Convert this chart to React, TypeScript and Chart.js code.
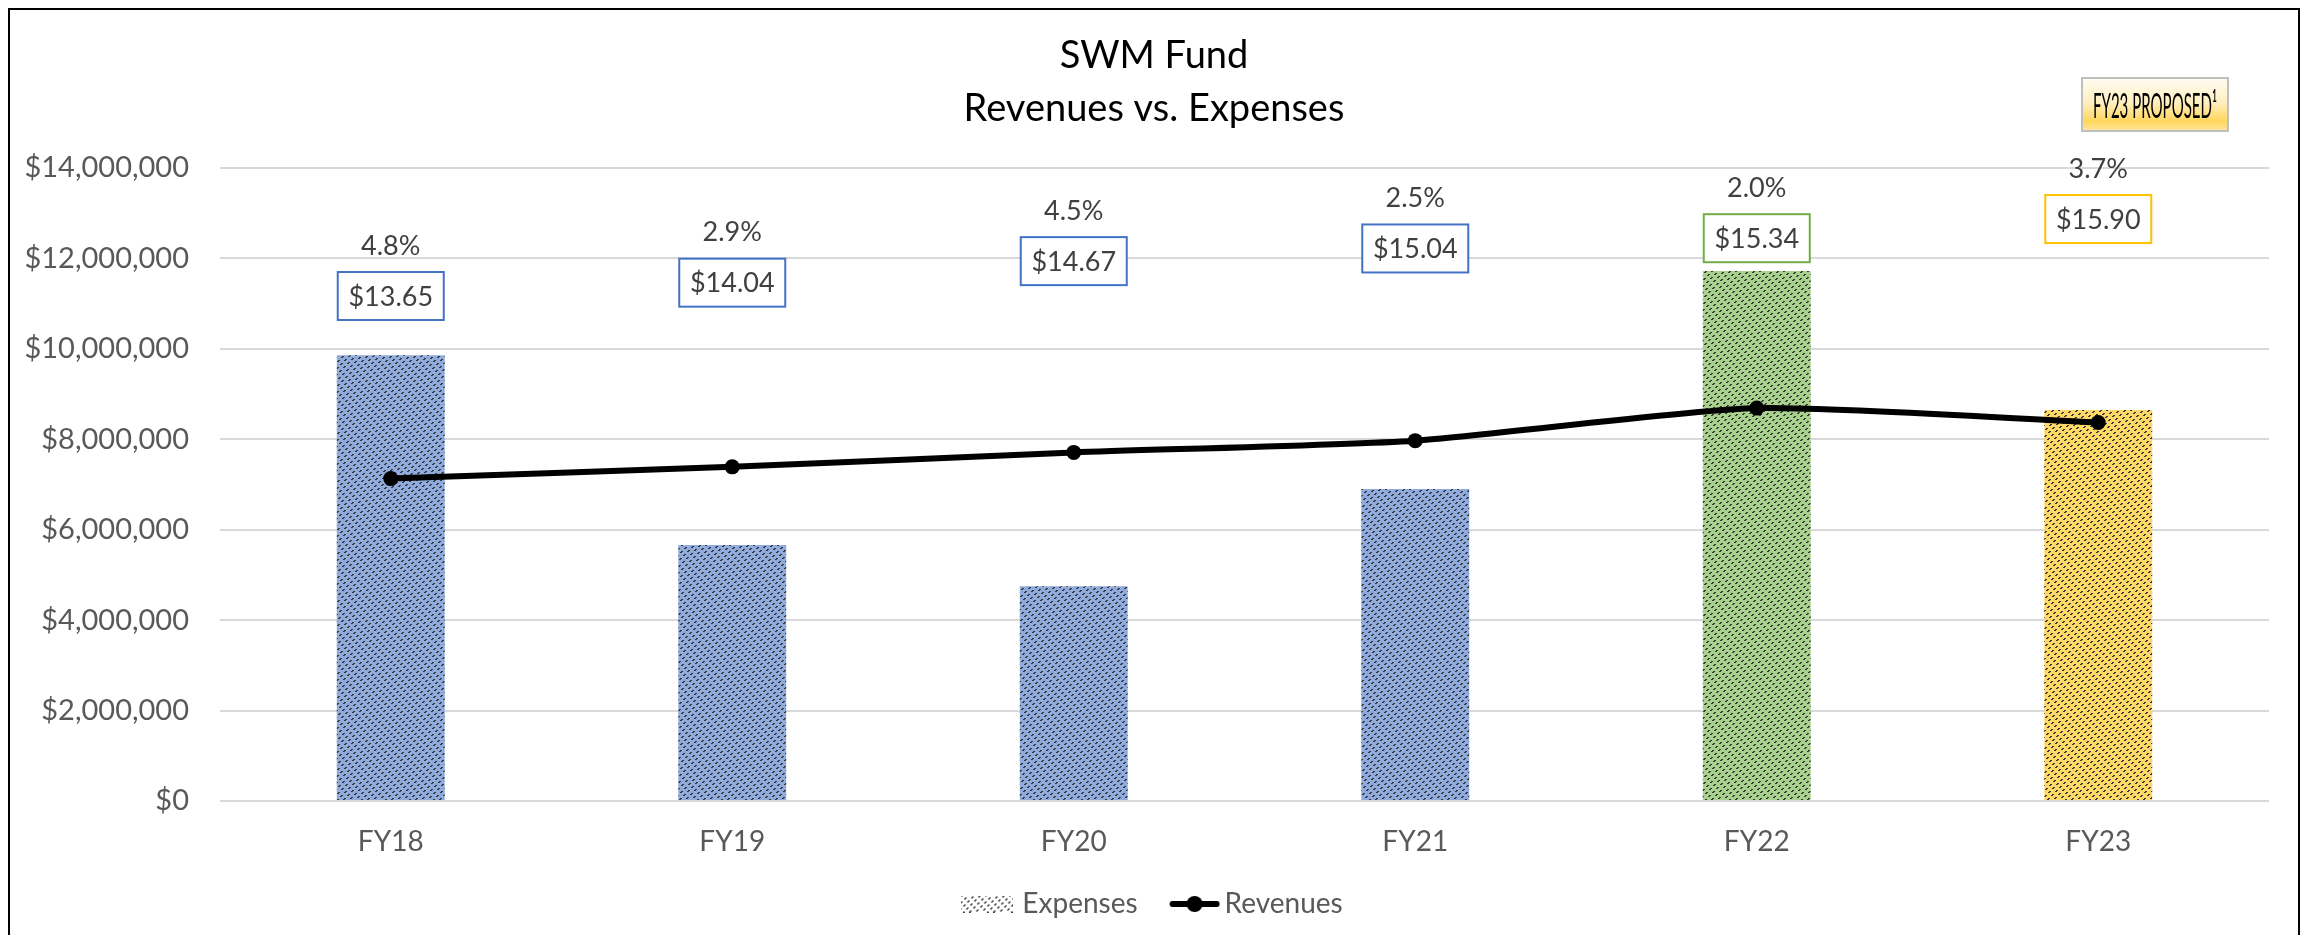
import React, { useEffect, useRef } from 'react';
import { Chart, registerables } from 'chart.js';

Chart.register(...registerables);

const categories = ['FY18', 'FY19', 'FY20', 'FY21', 'FY22', 'FY23'];
const expenses = [9860000, 5660000, 4750000, 6900000, 11720000, 8650000];
const revenues = [7130000, 7390000, 7710000, 7970000, 8690000, 8370000];
const rates = [13.65, 14.04, 14.67, 15.04, 15.34, 15.9];
const rateChanges = ['4.8%', '2.9%', '4.5%', '2.5%', '2.0%', '3.7%'];
const barColors = ['#8FAADC', '#8FAADC', '#8FAADC', '#8FAADC', '#A9D18E', '#FFD966'];
const labelBorders = ['#4472C4', '#4472C4', '#4472C4', '#4472C4', '#70AD47', '#FFC000'];
const titleLines = ['SWM Fund', 'Revenues vs. Expenses'];
const proposedText = 'FY23 PROPOSED\u00B9';

const FONT = 'Lato';

function makePattern(bg: string, fg: string): HTMLCanvasElement {
  const size = 24;
  const c = document.createElement('canvas');
  c.width = size;
  c.height = size;
  const ctx = c.getContext('2d')!;
  ctx.fillStyle = bg;
  ctx.fillRect(0, 0, size, size);
  ctx.fillStyle = fg;
  for (let y = 0; y < size; y++) {
    for (let x = 0; x < size; x++) {
      const s = (x + y) % 6;
      const d = (((x - y) % 8) + 8) % 8;
      if ((s === 0 || s === 1) && d < 4) {
        ctx.fillRect(x, y, 1, 1);
      }
    }
  }
  return c;
}

export default function App() {
  const ref = useRef<HTMLCanvasElement | null>(null);

  useEffect(() => {
    const canvas = ref.current;
    if (!canvas) return;
    const ctx0 = canvas.getContext('2d')!;
    const patterns = barColors.map((c) => ctx0.createPattern(makePattern(c, '#3A3A3A'), 'repeat')!);

    // legend icons
    const expIcon = document.createElement('canvas');
    expIcon.width = 52;
    expIcon.height = 17;
    {
      const ic = expIcon.getContext('2d')!;
      const p = ic.createPattern(makePattern('#FFFFFF', '#404040'), 'repeat')!;
      ic.fillStyle = p;
      ic.fillRect(0, 0, 52, 17);
    }
    const revIcon = document.createElement('canvas');
    revIcon.width = 64;
    revIcon.height = 18;
    {
      const ic = revIcon.getContext('2d')!;
      ic.strokeStyle = '#000';
      ic.lineWidth = 6;
      ic.lineCap = 'round';
      ic.beginPath();
      ic.moveTo(15.5, 9);
      ic.lineTo(59.5, 9);
      ic.stroke();
      ic.fillStyle = '#000';
      ic.beginPath();
      ic.arc(37.5, 9, 8, 0, Math.PI * 2);
      ic.fill();
    }

    const labelsPlugin = {
      id: 'rateLabels',
      afterDatasetsDraw(chart: any) {
        const ctx = chart.ctx as CanvasRenderingContext2D;
        const meta = chart.getDatasetMeta(2);
        meta.data.forEach((pt: any, i: number) => {
          const x = pt.x;
          const y = pt.y;
          ctx.save();
          ctx.fillStyle = '#FFFFFF';
          ctx.fillRect(x - 53, y - 24, 106, 48);
          ctx.lineWidth = 2;
          ctx.strokeStyle = labelBorders[i];
          ctx.strokeRect(x - 53, y - 24, 106, 48);
          ctx.font = `27px ${FONT}`;
          ctx.fillStyle = '#404040';
          ctx.textAlign = 'center';
          ctx.textBaseline = 'middle';
          ctx.fillText('$' + rates[i].toFixed(2), x, y + 1);
          ctx.fillText(rateChanges[i], x, y - 50);
          ctx.restore();
        });
        // FY23 proposed badge
        const bx = 2072, by = 68, bw = 146, bh = 53;
        ctx.save();
        const g = ctx.createLinearGradient(0, by, 0, by + bh);
        g.addColorStop(0, '#FFFCF2');
        g.addColorStop(0.45, '#FFF0C2');
        g.addColorStop(0.82, '#FFD65C');
        g.addColorStop(1, '#FFE8A0');
        ctx.fillStyle = g;
        ctx.fillRect(bx, by, bw, bh);
        ctx.lineWidth = 2;
        ctx.strokeStyle = '#BFBFBF';
        ctx.strokeRect(bx, by, bw, bh);
        ctx.font = `34px ${FONT}`;
        ctx.fillStyle = '#000000';
        ctx.textAlign = 'center';
        ctx.textBaseline = 'middle';
        const tw = ctx.measureText(proposedText).width;
        const sx = 124 / tw;
        ctx.translate(bx + bw / 2, by + bh / 2 + 3);
        ctx.scale(sx, 1);
        ctx.fillText(proposedText, 0, 0);
        ctx.restore();
      },
    };

    const chart = new Chart(canvas, {
      type: 'bar',
      data: {
        labels: categories,
        datasets: [
          {
            type: 'bar',
            label: 'Expenses',
            data: expenses,
            backgroundColor: patterns,
            borderWidth: 0,
            barPercentage: 0.316,
            categoryPercentage: 1,
            order: 2,
          } as any,
          {
            type: 'line',
            label: 'Revenues',
            data: revenues,
            borderColor: '#000000',
            backgroundColor: '#000000',
            borderWidth: 6,
            pointRadius: 7.5,
            pointBackgroundColor: '#000000',
            pointBorderWidth: 0,
            tension: 0.2,
            fill: false,
            order: 0,
          } as any,
          {
            type: 'line',
            label: 'Rates',
            data: rates,
            yAxisID: 'y2',
            showLine: false,
            pointRadius: 0,
            borderWidth: 0,
            order: 1,
          } as any,
        ],
      },
      options: {
        animation: false,
        responsive: false,
        devicePixelRatio: 1,
        layout: { padding: { top: 0, left: 0, right: 0, bottom: 7 } },
        plugins: {
          tooltip: { enabled: false },
          title: {
            display: true,
            text: titleLines,
            color: '#000000',
            font: { family: FONT, size: 38, weight: 'normal', lineHeight: 53 / 38 },
            padding: { top: 19, bottom: 33 },
          },
          legend: {
            display: true,
            position: 'bottom',
            labels: {
              usePointStyle: true,
              pointStyleWidth: 43,
              padding: 30,
              color: '#595959',
              font: { family: FONT, size: 28 },
              generateLabels: () => [
                { text: 'Expenses', pointStyle: expIcon, fillStyle: '#fff', strokeStyle: '#fff', lineWidth: 0, hidden: false, datasetIndex: 0, fontColor: '#595959' } as any,
                { text: 'Revenues', pointStyle: revIcon, fillStyle: '#000', strokeStyle: '#000', lineWidth: 0, hidden: false, datasetIndex: 1, fontColor: '#595959' } as any,
              ],
            },
          },
        },
        scales: {
          x: {
            grid: { display: false, drawTicks: false },
            border: { display: false },
            ticks: { color: '#595959', font: { family: FONT, size: 28 }, padding: 24 },
            afterFit: (s: any) => {
              s.height = 59;
            },
          },
          y: {
            min: 0,
            max: 14000000,
            ticks: {
              stepSize: 2000000,
              color: '#595959',
              font: { family: FONT, size: 29 },
              padding: 31,
              callback: (v: any) => '$' + Number(v).toLocaleString('en-US'),
            },
            grid: { color: '#D9D9D9', lineWidth: 2, drawTicks: false },
            border: { display: false },
            afterFit: (s: any) => {
              s.width = 210;
            },
          },
          yRight: {
            type: 'linear',
            position: 'right',
            display: true,
            grid: { display: false, drawTicks: false },
            border: { display: false },
            ticks: { display: false },
            afterFit: (s: any) => {
              s.width = 29;
            },
          },
          y2: {
            display: false,
            min: -1.116,
            max: 17.393,
          },
        },
      },
      plugins: [labelsPlugin],
    });

    return () => chart.destroy();
  }, []);

  return (
    <div
      style={{
        width: 2292,
        height: 927,
        borderTop: '2px solid #000',
        borderLeft: '2px solid #000',
        borderRight: '2px solid #000',
        boxSizing: 'border-box',
        background: '#fff',
      }}
    >
      <canvas ref={ref} width={2288} height={925} style={{ display: 'block', width: 2288, height: 925 }} />
    </div>
  );
}
